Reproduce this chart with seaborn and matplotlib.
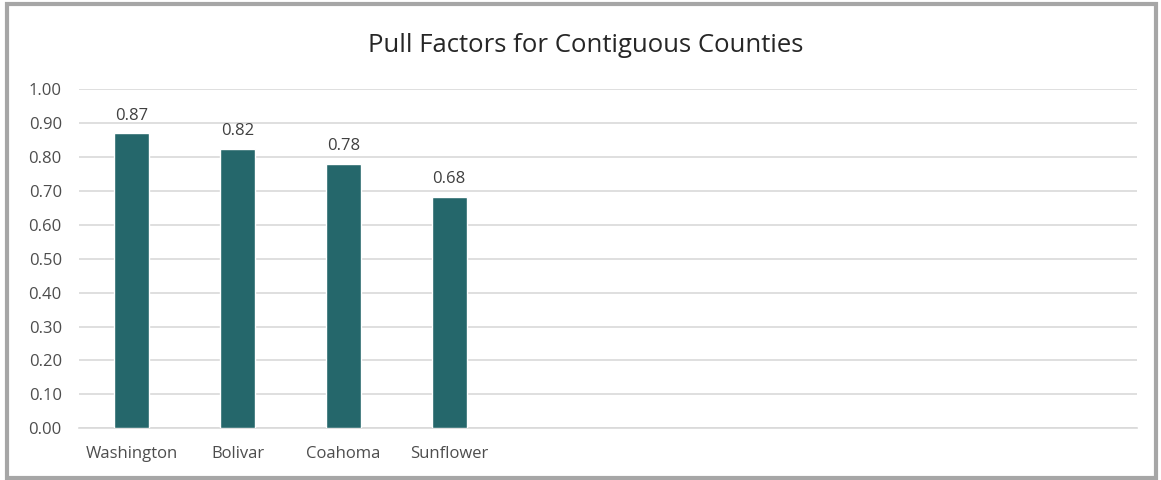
import matplotlib
matplotlib.use("Agg")
import matplotlib.pyplot as plt
import seaborn as sns
import pandas as pd
from matplotlib.patches import Rectangle

counties = ["Washington", "Bolivar", "Coahoma", "Sunflower"]
pull_factors = [0.87, 0.824, 0.781, 0.682]
empty_slots = [" " * (i + 1) for i in range(6)]
y_ticks = [0.0, 0.1, 0.2, 0.3, 0.4, 0.5, 0.6, 0.7, 0.8, 0.9, 1.0]
title = "Pull Factors for Contiguous Counties"

sns.set_theme(style="white")
plt.rcParams["font.family"] = ["Open Sans", "DejaVu Sans"]

df = pd.DataFrame({"county": counties, "pull": pull_factors})
order = counties + empty_slots

fig = plt.figure(figsize=(11.61, 4.8), dpi=100)
ax = fig.add_axes([0.068, 0.1077, 0.911, 0.7063])

sns.barplot(data=df, x="county", y="pull", order=order, color="#25676B",
            width=0.333, saturation=1, ax=ax, zorder=3)

for c in ax.containers:
    ax.bar_label(c, fmt="%.2f", padding=7, fontsize=12, color="#404040")

ax.set_ylim(0, 1.0)
ax.set_xlim(-0.5, len(order) - 0.5)
ax.set_yticks(y_ticks)
ax.set_yticklabels([f"{v:.2f}" for v in y_ticks])
ax.set_xticks(range(len(order)))
ax.set_xticklabels(counties + [""] * len(empty_slots))
ax.tick_params(axis="both", length=0, labelsize=12, labelcolor="#4d4d4d")
ax.tick_params(axis="y", pad=12.3)
ax.tick_params(axis="x", pad=13)
ax.set_xlabel("")
ax.set_ylabel("")
ax.yaxis.grid(True, color="#d9d9d9", linewidth=1.2, zorder=0)
ax.xaxis.grid(False)
for s in ["top", "right", "left"]:
    ax.spines[s].set_visible(False)
ax.spines["bottom"].set_color("#d9d9d9")
ax.spines["bottom"].set_linewidth(1.2)

fig.text(0.5043, 0.905, title, ha="center", va="center", fontsize=18.5, color="#262626")

fig.patches.append(Rectangle((0.006, 0.004), 0.99, 0.987, transform=fig.transFigure,
                             fill=False, edgecolor="#a6a6a6", linewidth=3))

fig.savefig("out.png", dpi=100, facecolor="white")
